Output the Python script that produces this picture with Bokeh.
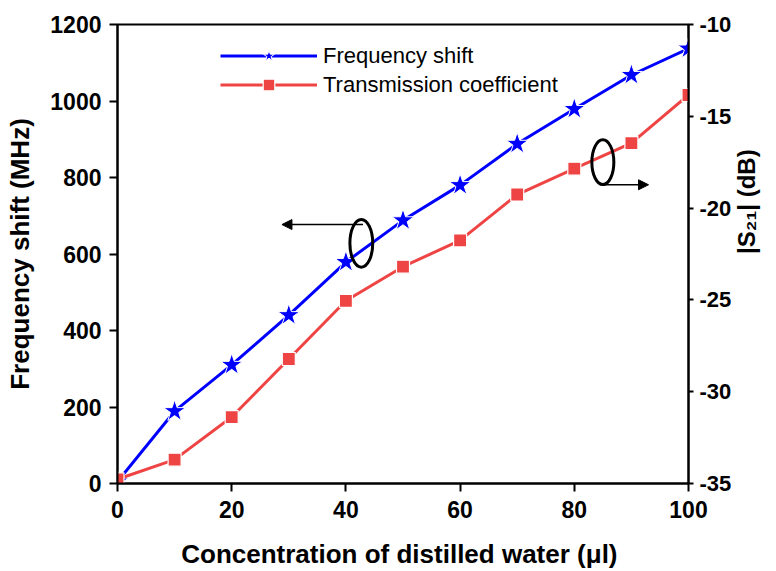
import math
from bokeh.plotting import figure
from bokeh.models import (Range1d, LinearAxis, Arrow, NormalHead,
                          Legend, LegendItem, FixedTicker, ColumnDataSource)
from bokeh.embed import file_html
from bokeh.resources import INLINE

# ---- data ----
concentration = [0, 10, 20, 30, 40, 50, 60, 70, 80, 90, 100]
freq_shift = [5, 189, 310, 440, 579, 688, 780, 888, 979, 1068, 1137]
s21_db = [-34.77, -33.70, -31.38, -28.22, -25.05, -23.19, -21.76, -19.26, -17.85, -16.46, -13.84]
x_ticks = [0, 20, 40, 60, 80, 100]
left_ticks = [0, 200, 400, 600, 800, 1000, 1200]
right_ticks = [-35, -30, -25, -20, -15, -10]

BLUE = "#0000ff"
RED = "#ef4444"
FONT = "Liberation Sans"

p = figure(width=776, height=571, output_backend="svg", toolbar_location=None,
           x_range=Range1d(0, 100), y_range=Range1d(0, 1200),
           min_border_left=117, min_border_right=87, min_border_top=24,
           min_border_bottom=86)
p.extra_y_ranges = {"s21": Range1d(-35, -10)}
p.xgrid.visible = False
p.ygrid.visible = False
p.outline_line_color = "black"
p.outline_line_width = 2
p.background_fill_color = "white"
p.border_fill_color = "white"

src = ColumnDataSource(dict(x=concentration, f=freq_shift, s=s21_db))

l1 = p.line("x", "f", source=src, line_color=BLUE, line_width=3)
m1 = p.scatter("x", "f", source=src, marker="star", size=23, fill_color=BLUE,
               line_color="white", line_width=1)
l2 = p.line("x", "s", source=src, line_color=RED, line_width=3, y_range_name="s21")
m2 = p.scatter("x", "s", source=src, marker="square", size=13, fill_color=RED,
               line_color="white", line_width=1.2, y_range_name="s21")

def style_axis(ax):
    ax.axis_line_width = 2
    ax.axis_line_color = "black"
    ax.major_tick_line_width = 2
    ax.major_tick_line_color = "black"
    ax.major_tick_out = 8
    ax.major_tick_in = 0
    ax.minor_tick_line_color = None
    ax.major_label_text_font = FONT
    ax.major_label_text_font_style = "bold"
    ax.major_label_text_font_size = "23px"
    ax.major_label_text_color = "black"
    ax.axis_label_text_font = FONT
    ax.axis_label_text_font_style = "bold"
    ax.axis_label_text_font_size = "26px"
    ax.axis_label_text_color = "black"

xa = p.xaxis[0]
style_axis(xa)
xa.ticker = FixedTicker(ticks=x_ticks)
xa.axis_label = "Concentration of distilled water  (\u03bcl)"
xa.major_label_standoff = 9
xa.axis_label_standoff = 18

ya = p.yaxis[0]
style_axis(ya)
ya.ticker = FixedTicker(ticks=left_ticks)
ya.axis_label = "Frequency shift (MHz)"
ya.major_label_standoff = 8
ya.axis_label_standoff = 12

ra = LinearAxis(y_range_name="s21", ticker=FixedTicker(ticks=right_ticks))
style_axis(ra)
ra.major_tick_out = 5
ra.major_label_standoff = 6
ra.major_label_text_font_size = "22px"
ra.major_label_overrides = {t: "-" + str(abs(t)) for t in right_ticks}
ra.axis_label = "|S\u2082\u2081| (dB)"
ra.axis_label_text_font_size = "24px"
ra.axis_label_standoff = 12
ra.axis_label_orientation = math.pi / 2
p.add_layout(ra, "right")

# ellipses + arrows (annotation marks)
p.ellipse(x=[42.7], y=[628], width=4.0, height=125, fill_color=None,
          line_color="black", line_width=3)
p.ellipse(x=[85.0], y=[840], width=3.85, height=117, fill_color=None,
          line_color="black", line_width=3)
p.add_layout(Arrow(x_start=43, y_start=677, x_end=28.8, y_end=677,
                   line_width=1.5, line_color="black",
                   end=NormalHead(size=10, fill_color="black", line_color="black")))
p.add_layout(Arrow(x_start=85.0, y_start=781, x_end=93.0, y_end=781,
                   line_width=1.5, line_color="black",
                   end=NormalHead(size=10, fill_color="black", line_color="black")))

legend = Legend(items=[LegendItem(label="Frequency shift", renderers=[l1, m1]),
                       LegendItem(label="Transmission coefficient", renderers=[l2, m2])],
                location=(103, 384))
legend.glyph_width = 97
legend.glyph_height = 29
legend.label_height = 29
legend.spacing = 0
legend.padding = 0
legend.margin = 0
legend.label_standoff = 6
legend.border_line_alpha = 0
legend.background_fill_alpha = 0
legend.label_text_font = FONT
legend.label_text_font_size = "22px"
legend.label_text_color = "black"
p.add_layout(legend, "center")

open("out.html", "w").write(file_html(p, INLINE))
